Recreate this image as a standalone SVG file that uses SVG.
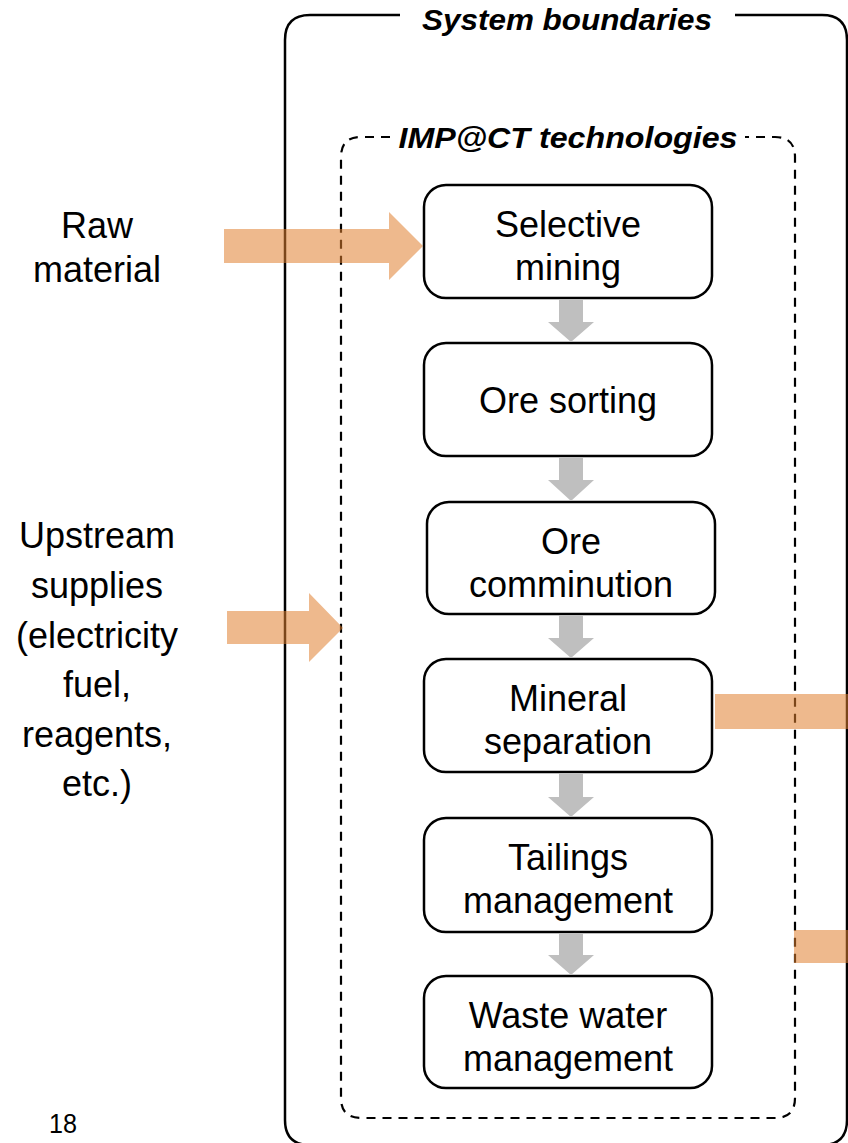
<svg xmlns="http://www.w3.org/2000/svg" width="848" height="1143" viewBox="0 0 848 1143">
<style>
.node{fill:#fff;stroke:#000;stroke-width:2.5}
.t{font-family:"Liberation Sans",Arial,sans-serif;font-size:36px;fill:#000;text-anchor:middle}
.title{font-family:"Liberation Sans",Arial,sans-serif;font-size:30px;font-weight:bold;font-style:italic;fill:#000;text-anchor:middle}
.orange{fill:#E08030;fill-opacity:0.55}
.gray{fill:#BFBFBF}
</style>
<rect width="848" height="1143" fill="#fff"/>
<g id="system-boundaries">
<path d="M400,15 H310 Q285,15 285,40 V1120 Q285,1145 310,1145 H822 Q847,1145 847,1120 V40 Q847,15 822,15 H735" fill="none" stroke="#000" stroke-width="2.5"/>
<text class="title" x="567" y="30" textLength="290" lengthAdjust="spacingAndGlyphs">System boundaries</text>
</g>
<g id="impact-technologies">
<path d="M390,137 H361 Q341,137 341,157 V1098 Q341,1118 361,1118 H775 Q795,1118 795,1098 V157 Q795,137 775,137 H745" fill="none" stroke="#000" stroke-width="2.2" stroke-dasharray="9,7"/>
<text class="title" x="568" y="148" textLength="339" lengthAdjust="spacingAndGlyphs">IMP@CT technologies</text>
</g>
<g id="node-selective-mining">
<rect class="node" x="424" y="185" width="288" height="113" rx="22"/>
<text class="t" x="568" y="237">Selective</text>
<text class="t" x="568" y="280">mining</text>
</g>
<g id="node-ore-sorting">
<rect class="node" x="424" y="343" width="288" height="113" rx="22"/>
<text class="t" x="568" y="413">Ore sorting</text>
</g>
<g id="node-ore-comminution">
<rect class="node" x="427" y="502" width="288" height="112" rx="22"/>
<text class="t" x="571" y="554">Ore</text>
<text class="t" x="571" y="597">comminution</text>
</g>
<g id="node-mineral-separation">
<rect class="node" x="424" y="659" width="288" height="113" rx="22"/>
<text class="t" x="568" y="711">Mineral</text>
<text class="t" x="568" y="754">separation</text>
</g>
<g id="node-tailings-management">
<rect class="node" x="424" y="818" width="288" height="114" rx="22"/>
<text class="t" x="568" y="870">Tailings</text>
<text class="t" x="568" y="913">management</text>
</g>
<g id="node-waste-water-management">
<rect class="node" x="424" y="976" width="288" height="112" rx="22"/>
<text class="t" x="568" y="1028">Waste water</text>
<text class="t" x="568" y="1071">management</text>
</g>
<g id="label-raw-material">
<text class="t" x="97" y="238">Raw</text>
<text class="t" x="97" y="282">material</text>
</g>
<g id="label-upstream">
<text class="t" x="97" y="548">Upstream</text>
<text class="t" x="97" y="598">supplies</text>
<text class="t" x="97" y="648">(electricity</text>
<text class="t" x="97" y="697">fuel,</text>
<text class="t" x="97" y="747">reagents,</text>
<text class="t" x="97" y="796">etc.)</text>
</g>
<text x="63" y="1133" font-family="Liberation Sans,Arial,sans-serif" font-size="28" text-anchor="middle" textLength="28" lengthAdjust="spacingAndGlyphs">18</text>
<g id="connectors">
<polygon class="gray" points="559,299 583,299 583,322 594,322 571,342 548,322 559,322"/>
<polygon class="gray" points="559,458 583,458 583,480 594,480 571,501 548,480 559,480"/>
<polygon class="gray" points="559,615 583,615 583,638 594,638 571,658 548,638 559,638"/>
<polygon class="gray" points="559,773 583,773 583,797 594,797 571,817 548,797 559,797"/>
<polygon class="gray" points="559,933 583,933 583,955 594,955 571,975 548,955 559,955"/>
<polygon class="orange" points="224,229 389,229 389,212 423,246 389,280 389,263 224,263"/>
<polygon class="orange" points="227,611 309,611 309,593 343,628 309,662 309,644 227,644"/>
<rect class="orange" x="715" y="694" width="133" height="35"/>
<rect class="orange" x="794" y="930" width="54" height="33"/>
</g>
</svg>
